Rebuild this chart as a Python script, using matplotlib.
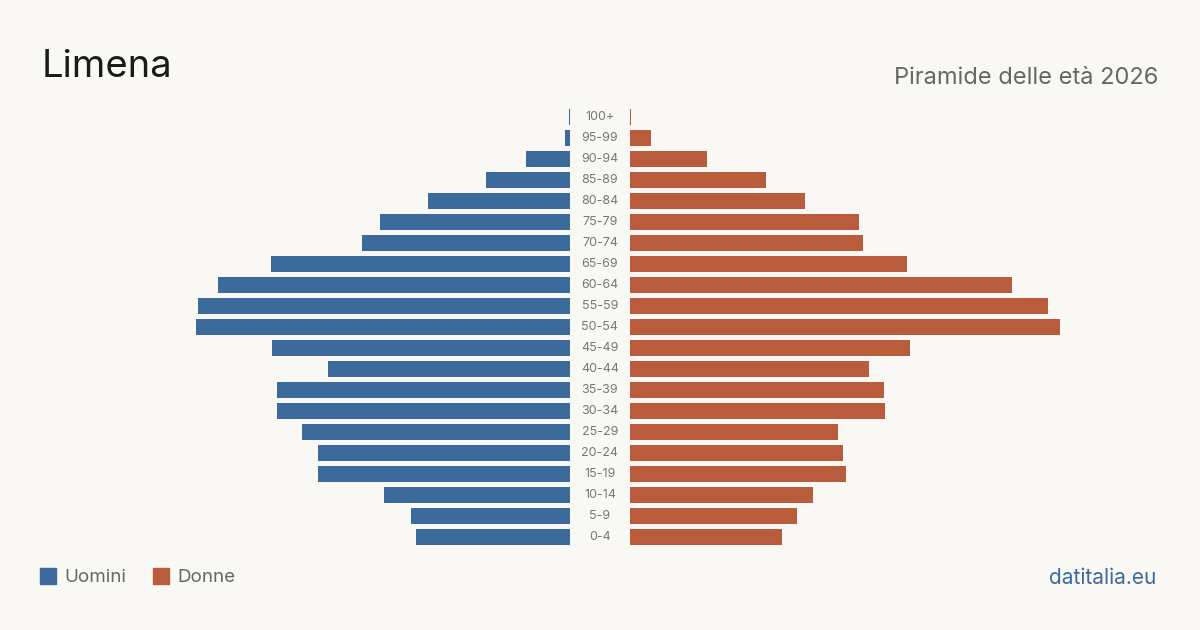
import matplotlib.pyplot as plt
import numpy as np

plt.rcParams['font.family'] = ['Inter', 'DejaVu Sans']

# age groups from youngest to oldest
ages = ['0-4', '5-9', '10-14', '15-19', '20-24', '25-29', '30-34', '35-39',
        '40-44', '45-49', '50-54', '55-59', '60-64', '65-69', '70-74',
        '75-79', '80-84', '85-89', '90-94', '95-99', '100+']
men = [154, 159, 186, 252, 252, 268, 293, 293, 242, 298, 374, 372, 352,
       299, 208, 190, 142, 84, 44, 5, 1]
women = [152, 167, 183, 216, 213, 208, 255, 254, 239, 280, 430, 418, 382,
         277, 233, 229, 175, 136, 77, 21, 1]

blue = '#3b6a9b'
orange = '#b95c3c'
bg = '#f9f8f4'

fig = plt.figure(figsize=(12, 6.3), dpi=100, facecolor=bg)
W, H = 1200, 630
span = 440
bottom = (H - 547.5) / H
height = 441 / H

axl = fig.add_axes([(570 - span) / W, bottom, span / W, height])
axr = fig.add_axes([630 / W, bottom, span / W, height])

y = np.arange(len(ages))
axl.barh(y, men, height=0.8, color=blue)
axr.barh(y, women, height=0.8, color=orange)
axl.set_xlim(span, 0)
axr.set_xlim(0, span)

for ax in (axl, axr):
    ax.set_ylim(-0.5, len(ages) - 0.5)
    ax.axis('off')
    ax.set_facecolor(bg)

for i, a in enumerate(ages):
    fig.text(600 / W, (H - (537 - 21 * i)) / H, a, ha='center', va='center',
             fontsize=9, color='#777777')

fig.text(42 / W, (H - 67) / H, 'Limena', fontsize=27.5, color='#1a1a1a',
         va='center', ha='left')
fig.text(1158 / W, (H - 78) / H, 'Piramide delle età 2026', fontsize=17,
         color='#666666', va='center', ha='right')

# legend
fig.patches.append(plt.Rectangle((40 / W, (H - 584) / H), 16 / W, 16 / H,
                                 transform=fig.transFigure, color=blue))
fig.text(64 / W, (H - 578) / H, 'Uomini', fontsize=13.5, color='#666666', va='center')
fig.patches.append(plt.Rectangle((153 / W, (H - 584) / H), 16 / W, 16 / H,
                                 transform=fig.transFigure, color=orange))
fig.text(177 / W, (H - 578) / H, 'Donne', fontsize=13.5, color='#666666', va='center')

fig.text(1156 / W, (H - 578) / H, 'datitalia.eu', fontsize=15, color='#3b6a9b',
         va='center', ha='right')

fig.savefig('out.png', dpi=100, facecolor=bg)
